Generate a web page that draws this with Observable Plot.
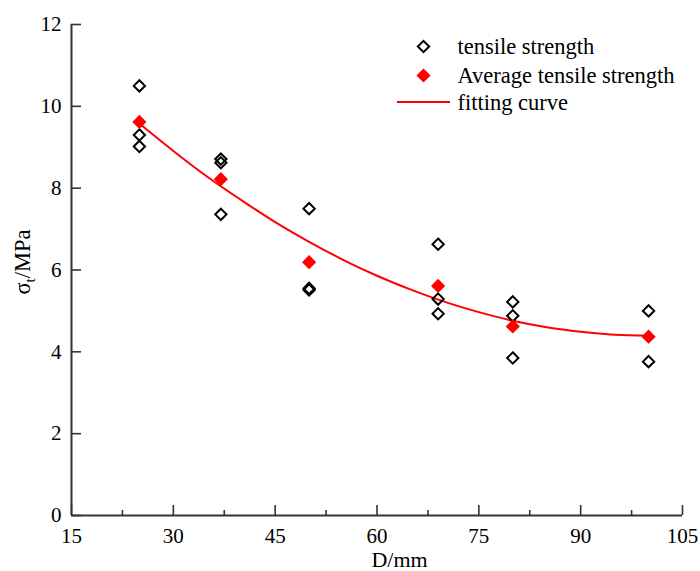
<!DOCTYPE html>
<html><head><meta charset="utf-8">
<script src="https://cdn.jsdelivr.net/npm/d3@7"></script>
<script src="https://cdn.jsdelivr.net/npm/@observablehq/plot@0.6"></script>
<style>html,body{margin:0;padding:0;background:#fff} #chart svg{display:block}</style>
</head><body><div id="chart"></div>
<script>
// individual specimens
const diameters = [25, 25, 25, 37, 37, 37, 50, 50, 50, 69, 69, 69, 80, 80, 80, 100, 100];
const strengths = [10.5, 9.3, 9.02, 8.71, 8.62, 7.36, 7.5, 5.55, 5.51, 6.63, 5.29, 4.93, 5.22, 4.88, 3.85, 5.0, 3.76];
// averages
const avgDiameters = [25, 37, 50, 69, 80, 100];
const avgStrengths = [9.62, 8.22, 6.19, 5.61, 4.62, 4.37];
// fitting curve
const fitD = [25, 30, 35, 40, 45, 50, 55, 60, 65, 70, 75, 80, 85, 90, 95, 100];
const fitS = [9.58, 8.91, 8.28, 7.71, 7.17, 6.69, 6.25, 5.86, 5.52, 5.22, 4.97, 4.76, 4.60, 4.49, 4.42, 4.40];
// ticks and labels
const xTicks = [15, 30, 45, 60, 75, 90, 105];
const xMinorTicks = [22.5, 37.5, 52.5, 67.5, 82.5, 97.5];
const yTicks = [0, 2, 4, 6, 8, 10, 12];
const legendLabels = ["tensile strength", "Average tensile strength", "fitting curve"];
const xTitle = "D/mm";
const yTitleMain = "σ", yTitleSub = "t", yTitleRest = "/MPa";

const W = 700, H = 571, mL = 71, mR = 18, mT = 24, mB = 56;
const font = "'Liberation Serif','Times New Roman',serif";
const axisColor = "#333";
const red = "#ff0000";

const plot = Plot.plot({
  width: W, height: H,
  marginLeft: mL, marginRight: mR, marginTop: mT, marginBottom: mB,
  style: {fontFamily: font, fontSize: "21px", color: "#000", background: "#fff", overflow: "visible"},
  x: {domain: [15, 105]},
  y: {domain: [0, 12]},
  marks: [
    Plot.axisX({ticks: xTicks, tickSize: -10, tickPadding: 23, label: null, stroke: axisColor, strokeWidth: 1.6, fontSize: 21, fontFamily: font, tickFormat: d => String(d)}),
    Plot.axisX({ticks: xMinorTicks, tickSize: -5, tickPadding: 0, label: null, stroke: axisColor, strokeWidth: 1.6, tickFormat: () => ""}),
    Plot.axisY({ticks: yTicks, tickSize: -10, tickPadding: 20, label: null, stroke: axisColor, strokeWidth: 1.6, fontSize: 21, fontFamily: font, tickFormat: d => String(d)}),
    Plot.ruleX([15], {stroke: axisColor, strokeWidth: 2}),
    Plot.ruleY([0], {stroke: axisColor, strokeWidth: 2}),
    Plot.line(fitS, {x: (d, i) => fitD[i], y: d => d, stroke: red, strokeWidth: 2, curve: "monotone-x"}),
    Plot.dot(strengths, {x: (d, i) => diameters[i], y: d => d, symbol: "diamond2", r: 5.1, stroke: "#000", strokeWidth: 2, fill: "none"}),
    Plot.dot(avgStrengths, {x: (d, i) => avgDiameters[i], y: d => d, symbol: "diamond2", r: 6.4, fill: red, stroke: "none"}),
    // legend
    Plot.dot([0], {frameAnchor: "top-left", dx: 352, dy: 22, symbol: "diamond2", r: 5.1, stroke: "#000", strokeWidth: 2, fill: "none"}),
    Plot.dot([0], {frameAnchor: "top-left", dx: 352, dy: 51, symbol: "diamond2", r: 6.4, fill: red, stroke: "none"}),
    Plot.text([legendLabels[0]], {text: d => d, frameAnchor: "top-left", dx: 386, dy: 29.5, textAnchor: "start", lineAnchor: "bottom", fontSize: 22.5, fontFamily: font}),
    Plot.text([legendLabels[1]], {text: d => d, frameAnchor: "top-left", dx: 386, dy: 58, textAnchor: "start", lineAnchor: "bottom", fontSize: 22.5, fontFamily: font}),
    Plot.text([legendLabels[2]], {text: d => d, frameAnchor: "top-left", dx: 386, dy: 85.5, textAnchor: "start", lineAnchor: "bottom", fontSize: 22.5, fontFamily: font})
  ]
});
document.getElementById("chart").appendChild(plot);

const svg = d3.select(plot);
// legend line
svg.append("line")
  .attr("x1", 397).attr("x2", 450).attr("y1", 102).attr("y2", 102)
  .attr("stroke", red).attr("stroke-width", 2);
// x title
svg.append("text")
  .attr("x", 399.5).attr("y", 567)
  .attr("text-anchor", "middle")
  .style("font-family", font).style("font-size", "22px").attr("fill", "#000")
  .text(xTitle);
// y title
const yt = svg.append("text")
  .attr("transform", "translate(30,262) rotate(-90)")
  .attr("text-anchor", "middle")
  .style("font-family", font).style("font-size", "22.5px").attr("fill", "#000");
yt.append("tspan").text(yTitleMain);
yt.append("tspan").style("font-size", "15px").attr("dy", 5).text(yTitleSub);
yt.append("tspan").attr("dy", -5).text(yTitleRest);
</script>
</body></html>
